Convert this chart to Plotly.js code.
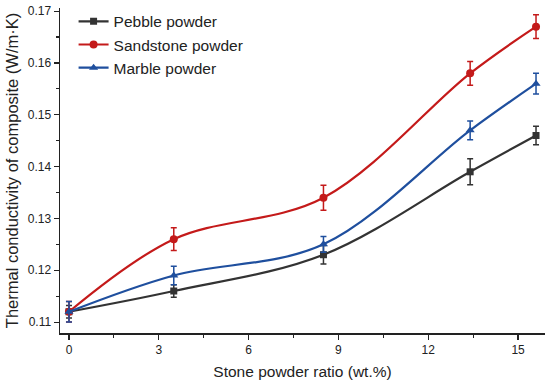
<!DOCTYPE html>
<html>
<head>
<meta charset="utf-8">
<script src="https://cdn.plot.ly/plotly-3.0.1.min.js"></script>
<style>html,body{margin:0;padding:0;background:#fff;}#chart{width:550px;height:385px;}</style>
</head>
<body>
<div id="chart"></div>
<script>
const ratio = [0, 3.5, 8.5, 13.4, 15.6];
const pebble = [0.112, 0.116, 0.123, 0.139, 0.146];
const pebbleErr = [0.0012, 0.0012, 0.0018, 0.0025, 0.0018];
const sandstone = [0.112, 0.126, 0.134, 0.158, 0.167];
const sandstoneErr = [0.002, 0.0022, 0.0024, 0.0023, 0.0023];
const marble = [0.112, 0.119, 0.125, 0.147, 0.156];
const marbleErr = [0.002, 0.0018, 0.0015, 0.0018, 0.002];
const xTicks = [0, 3, 6, 9, 12, 15];
const yTicks = [0.11, 0.12, 0.13, 0.14, 0.15, 0.16, 0.17];

function series(name, y, err, color, symbol, size) {
  return {
    x: ratio, y: y, name: name, type: 'scatter', mode: 'lines+markers',
    line: {color: color, width: 2.2, shape: 'spline', smoothing: 1},
    marker: {color: color, symbol: symbol, size: size},
    error_y: {type: 'data', array: err, visible: true, color: color, thickness: 1.5, width: 3}
  };
}
const data = [
  series('Pebble powder', pebble, pebbleErr, '#333333', 'square', 7),
  series('Sandstone powder', sandstone, sandstoneErr, '#c41a1a', 'circle', 8),
  series('Marble powder', marble, marbleErr, '#1f4f9e', 'triangle-up', 8)
];
const layout = {
  width: 550, height: 385,
  margin: {l: 60, r: 5, t: 5, b: 52},
  paper_bgcolor: '#fff', plot_bgcolor: '#fff',
  font: {family: 'Arial, Liberation Sans, sans-serif', color: '#222'},
  showlegend: true,
  legend: {x: 0.028, y: 1.01, xanchor: 'left', yanchor: 'top', font: {size: 15.5, color: '#222'}, bgcolor: 'rgba(0,0,0,0)', tracegroupgap: 0},
  xaxis: {
    range: [-0.3, 15.9], tickvals: xTicks, ticktext: xTicks.map(String),
    showgrid: false, zeroline: false, showline: true, linecolor: '#222', linewidth: 1.5,
    ticks: 'outside', ticklen: 5, tickwidth: 1.2, tickcolor: '#222',
    minor: {dtick: 1.5, tick0: 0, ticks: 'outside', ticklen: 3, tickcolor: '#222'},
    tickfont: {size: 12},
    title: {text: 'Stone powder ratio (wt.%)', font: {size: 15.5}, standoff: 10}
  },
  yaxis: {
    range: [0.1079, 0.1706], tickvals: yTicks, ticktext: yTicks.map(v => v.toFixed(2)),
    showgrid: false, zeroline: false, showline: true, linecolor: '#222', linewidth: 1.5,
    ticks: 'outside', ticklen: 5, tickwidth: 1.2, tickcolor: '#222',
    minor: {dtick: 0.005, tick0: 0.11, ticks: 'outside', ticklen: 3, tickcolor: '#222'},
    tickfont: {size: 12},
    title: {text: 'Thermal conductivity of composite (W/m·K)', font: {size: 16.5}, standoff: 5}
  }
};
Plotly.newPlot('chart', data, layout, {staticPlot: true, displayModeBar: false});
</script>
</body>
</html>
